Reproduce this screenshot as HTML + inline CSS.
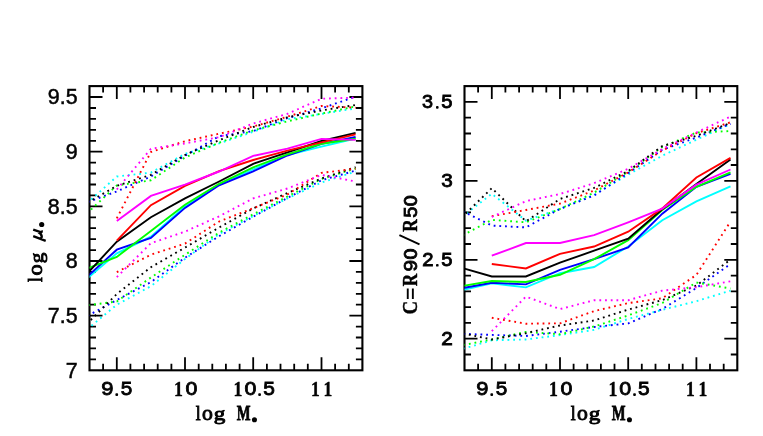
<!DOCTYPE html>
<html><head><meta charset="utf-8"><title>chart</title>
<style>html,body{margin:0;padding:0;background:#fff}svg{display:block}</style>
</head><body>
<svg width="763" height="436" viewBox="0 0 763 436">
<rect width="763" height="436" fill="#ffffff"/>
<defs><clipPath id="cl"><rect x="89.5" y="86.1" width="272.9" height="284.2"/></clipPath>
<clipPath id="cr"><rect x="464.5" y="86.1" width="272.8" height="284.2"/></clipPath></defs>
<path d="M103.1 370.3V363.8M103.1 86.1V92.6M116.8 370.3V357.3M116.8 86.1V99.1M130.4 370.3V363.8M130.4 86.1V92.6M144.1 370.3V363.8M144.1 86.1V92.6M157.7 370.3V363.8M157.7 86.1V92.6M171.4 370.3V363.8M171.4 86.1V92.6M185.0 370.3V357.3M185.0 86.1V99.1M198.7 370.3V363.8M198.7 86.1V92.6M212.3 370.3V363.8M212.3 86.1V92.6M225.9 370.3V363.8M225.9 86.1V92.6M239.6 370.3V363.8M239.6 86.1V92.6M253.2 370.3V357.3M253.2 86.1V99.1M266.9 370.3V363.8M266.9 86.1V92.6M280.5 370.3V363.8M280.5 86.1V92.6M294.2 370.3V363.8M294.2 86.1V92.6M307.8 370.3V363.8M307.8 86.1V92.6M321.5 370.3V357.3M321.5 86.1V99.1M335.1 370.3V363.8M335.1 86.1V92.6M348.8 370.3V363.8M348.8 86.1V92.6M89.5 359.4H96.0M362.4 359.4H355.9M89.5 348.4H96.0M362.4 348.4H355.9M89.5 337.5H96.0M362.4 337.5H355.9M89.5 326.6H96.0M362.4 326.6H355.9M89.5 315.6H102.5M362.4 315.6H349.4M89.5 304.7H96.0M362.4 304.7H355.9M89.5 293.8H96.0M362.4 293.8H355.9M89.5 282.9H96.0M362.4 282.9H355.9M89.5 271.9H96.0M362.4 271.9H355.9M89.5 261.0H102.5M362.4 261.0H349.4M89.5 250.1H96.0M362.4 250.1H355.9M89.5 239.1H96.0M362.4 239.1H355.9M89.5 228.2H96.0M362.4 228.2H355.9M89.5 217.3H96.0M362.4 217.3H355.9M89.5 206.3H102.5M362.4 206.3H349.4M89.5 195.4H96.0M362.4 195.4H355.9M89.5 184.5H96.0M362.4 184.5H355.9M89.5 173.5H96.0M362.4 173.5H355.9M89.5 162.6H96.0M362.4 162.6H355.9M89.5 151.7H102.5M362.4 151.7H349.4M89.5 140.8H96.0M362.4 140.8H355.9M89.5 129.8H96.0M362.4 129.8H355.9M89.5 118.9H96.0M362.4 118.9H355.9M89.5 108.0H96.0M362.4 108.0H355.9M89.5 97.0H102.5M362.4 97.0H349.4" stroke="#000" stroke-width="1.8" fill="none"/>
<rect x="89.5" y="86.1" width="272.9" height="284.2" fill="none" stroke="#000" stroke-width="2.1"/>
<path d="M478.1 370.3V363.8M478.1 86.1V92.6M491.8 370.3V357.3M491.8 86.1V99.1M505.4 370.3V363.8M505.4 86.1V92.6M519.1 370.3V363.8M519.1 86.1V92.6M532.7 370.3V363.8M532.7 86.1V92.6M546.3 370.3V363.8M546.3 86.1V92.6M560.0 370.3V357.3M560.0 86.1V99.1M573.6 370.3V363.8M573.6 86.1V92.6M587.3 370.3V363.8M587.3 86.1V92.6M600.9 370.3V363.8M600.9 86.1V92.6M614.5 370.3V363.8M614.5 86.1V92.6M628.2 370.3V357.3M628.2 86.1V99.1M641.8 370.3V363.8M641.8 86.1V92.6M655.5 370.3V363.8M655.5 86.1V92.6M669.1 370.3V363.8M669.1 86.1V92.6M682.7 370.3V363.8M682.7 86.1V92.6M696.4 370.3V357.3M696.4 86.1V99.1M710.0 370.3V363.8M710.0 86.1V92.6M723.7 370.3V363.8M723.7 86.1V92.6M464.5 354.5H471.0M737.3 354.5H730.8M464.5 338.7H477.5M737.3 338.7H724.3M464.5 322.9H471.0M737.3 322.9H730.8M464.5 307.1H471.0M737.3 307.1H730.8M464.5 291.4H471.0M737.3 291.4H730.8M464.5 275.6H471.0M737.3 275.6H730.8M464.5 259.8H477.5M737.3 259.8H724.3M464.5 244.0H471.0M737.3 244.0H730.8M464.5 228.2H471.0M737.3 228.2H730.8M464.5 212.4H471.0M737.3 212.4H730.8M464.5 196.6H471.0M737.3 196.6H730.8M464.5 180.8H477.5M737.3 180.8H724.3M464.5 165.0H471.0M737.3 165.0H730.8M464.5 149.3H471.0M737.3 149.3H730.8M464.5 133.5H471.0M737.3 133.5H730.8M464.5 117.7H471.0M737.3 117.7H730.8M464.5 101.9H477.5M737.3 101.9H724.3" stroke="#000" stroke-width="1.8" fill="none"/>
<rect x="464.5" y="86.1" width="272.8" height="284.2" fill="none" stroke="#000" stroke-width="2.1"/>
<g clip-path="url(#cl)" fill="none" stroke-width="1.90" stroke-linejoin="miter">
<path d="M82.7 282.4 L89.5 276.6 L116.8 253.3 L150.9 236.7 L185.0 206.4 L219.1 184.8 L253.2 169.5 L287.4 155.0 L321.5 146.7 L355.6 138.5" stroke="#00ffff"/>
<path d="M82.7 207.1 L89.5 201.0 L116.8 176.5 L150.9 172.6 L185.0 153.9 L219.1 143.4 L253.2 131.8 L287.4 119.3 L321.5 113.9 L355.6 108.4" stroke="#00ffff" stroke-dasharray="1.8 3.9"/>
<path d="M82.7 333.1 L89.5 327.4 L116.8 304.7 L150.9 286.2 L185.0 259.0 L219.1 234.0 L253.2 216.0 L287.4 198.4 L321.5 182.5 L355.6 171.5" stroke="#00ffff" stroke-dasharray="1.8 3.9"/>
<path d="M82.7 280.7 L89.5 274.5 L116.8 249.7 L150.9 238.0 L185.0 207.9 L219.1 185.3 L253.2 171.3 L287.4 155.5 L321.5 143.8 L355.6 137.0" stroke="#0000ff"/>
<path d="M82.7 204.0 L89.5 201.5 L116.8 191.4 L150.9 176.5 L185.0 155.8 L219.1 136.2 L253.2 131.1 L287.4 118.1 L321.5 108.4 L355.6 96.6" stroke="#0000ff" stroke-dasharray="1.8 3.9"/>
<path d="M82.7 318.5 L89.5 314.8 L116.8 300.0 L150.9 282.1 L185.0 257.7 L219.1 236.2 L253.2 216.7 L287.4 198.0 L321.5 180.3 L355.6 170.6" stroke="#0000ff" stroke-dasharray="1.8 3.9"/>
<path d="M82.7 270.3 L89.5 267.6 L116.8 256.9 L150.9 231.0 L185.0 204.7 L219.1 183.8 L253.2 167.3 L287.4 154.4 L321.5 143.8 L355.6 138.8" stroke="#00ff00"/>
<path d="M82.7 217.4 L89.5 211.0 L116.8 185.5 L150.9 180.3 L185.0 157.5 L219.1 142.7 L253.2 130.4 L287.4 121.3 L321.5 113.6 L355.6 106.4" stroke="#00ff00" stroke-dasharray="1.8 3.9"/>
<path d="M82.7 306.0 L89.5 305.1 L116.8 301.5 L150.9 277.5 L185.0 254.8 L219.1 232.6 L253.2 214.3 L287.4 196.5 L321.5 179.0 L355.6 168.5" stroke="#00ff00" stroke-dasharray="1.8 3.9"/>
<path d="M82.7 278.3 L89.5 271.0 L116.8 241.7 L150.9 217.2 L185.0 198.3 L219.1 181.5 L253.2 163.8 L287.4 152.4 L321.5 141.0 L355.6 132.8" stroke="#000000"/>
<path d="M82.7 205.4 L89.5 201.5 L116.8 185.9 L150.9 174.8 L185.0 155.0 L219.1 140.2 L253.2 127.0 L287.4 117.3 L321.5 110.4 L355.6 105.0" stroke="#000000" stroke-dasharray="1.8 3.9"/>
<path d="M82.7 328.1 L89.5 321.3 L116.8 294.0 L150.9 267.2 L185.0 247.6 L219.1 227.5 L253.2 208.5 L287.4 193.0 L321.5 178.5 L355.6 167.1" stroke="#000000" stroke-dasharray="1.8 3.9"/>
<path d="M116.8 240.7 L150.9 205.2 L185.0 185.8 L219.1 171.1 L253.2 160.0 L287.4 150.7 L321.5 142.4 L355.6 134.3" stroke="#ff0000"/>
<path d="M116.8 218.4 L150.9 152.0 L185.0 141.2 L219.1 133.7 L253.2 126.5 L287.4 116.7 L321.5 106.0 L355.6 107.7" stroke="#ff0000" stroke-dasharray="1.8 3.9"/>
<path d="M116.8 272.1 L150.9 254.7 L185.0 243.6 L219.1 221.5 L253.2 208.2 L287.4 194.5 L321.5 172.9 L355.6 168.7" stroke="#ff0000" stroke-dasharray="1.8 3.9"/>
<path d="M116.8 220.9 L150.9 195.9 L185.0 184.6 L219.1 171.5 L253.2 155.9 L287.4 148.6 L321.5 138.9 L355.6 139.9" stroke="#ff00ff"/>
<path d="M116.8 189.5 L150.9 148.8 L185.0 143.4 L219.1 137.2 L253.2 123.5 L287.4 113.8 L321.5 98.7 L355.6 97.6" stroke="#ff00ff" stroke-dasharray="1.8 3.9"/>
<path d="M116.8 277.1 L150.9 243.2 L185.0 231.6 L219.1 216.3 L253.2 198.4 L287.4 188.5 L321.5 174.9 L355.6 181.5" stroke="#ff00ff" stroke-dasharray="1.8 3.9"/>
</g>
<g clip-path="url(#cr)" fill="none" stroke-width="1.90" stroke-linejoin="miter">
<path d="M457.7 291.1 L464.5 289.5 L491.8 283.2 L525.9 287.4 L560.0 273.2 L594.1 267.0 L628.2 246.5 L662.3 220.2 L696.4 201.3 L730.5 186.4" stroke="#00ffff"/>
<path d="M457.7 220.3 L464.5 215.0 L491.8 193.8 L525.9 220.6 L560.0 208.9 L594.1 194.8 L628.2 174.6 L662.3 155.7 L696.4 139.7 L730.5 124.1" stroke="#00ffff" stroke-dasharray="1.8 3.9"/>
<path d="M457.7 350.4 L464.5 348.4 L491.8 340.3 L525.9 339.5 L560.0 335.0 L594.1 329.9 L628.2 319.0 L662.3 309.8 L696.4 301.2 L730.5 290.6" stroke="#00ffff" stroke-dasharray="1.8 3.9"/>
<path d="M457.7 289.1 L464.5 287.8 L491.8 282.7 L525.9 284.4 L560.0 269.8 L594.1 259.2 L628.2 247.5 L662.3 213.7 L696.4 186.8 L730.5 173.8" stroke="#0000ff"/>
<path d="M457.7 208.8 L464.5 212.2 L491.8 225.6 L525.9 227.4 L560.0 208.9 L594.1 195.5 L628.2 173.1 L662.3 149.8 L696.4 137.5 L730.5 123.8" stroke="#0000ff" stroke-dasharray="1.8 3.9"/>
<path d="M457.7 333.6 L464.5 333.9 L491.8 334.9 L525.9 336.0 L560.0 331.7 L594.1 327.0 L628.2 323.4 L662.3 309.0 L696.4 288.0 L730.5 264.0" stroke="#0000ff" stroke-dasharray="1.8 3.9"/>
<path d="M457.7 286.8 L464.5 285.6 L491.8 281.0 L525.9 282.0 L560.0 274.8 L594.1 259.2 L628.2 240.2 L662.3 210.0 L696.4 186.8 L730.5 172.4" stroke="#00ff00"/>
<path d="M457.7 237.9 L464.5 234.3 L491.8 219.9 L525.9 222.3 L560.0 209.0 L594.1 192.6 L628.2 171.7 L662.3 147.0 L696.4 132.5 L730.5 131.0" stroke="#00ff00" stroke-dasharray="1.8 3.9"/>
<path d="M457.7 346.1 L464.5 344.8 L491.8 339.5 L525.9 331.9 L560.0 334.2 L594.1 326.5 L628.2 315.4 L662.3 303.0 L696.4 282.5 L730.5 288.5" stroke="#00ff00" stroke-dasharray="1.8 3.9"/>
<path d="M457.7 266.7 L464.5 268.7 L491.8 276.5 L525.9 276.5 L560.0 262.7 L594.1 250.7 L628.2 238.6 L662.3 209.3 L696.4 184.0 L730.5 159.4" stroke="#000000"/>
<path d="M457.7 221.5 L464.5 214.8 L491.8 188.1 L525.9 221.3 L560.0 199.0 L594.1 187.9 L628.2 171.0 L662.3 146.0 L696.4 135.8 L730.5 123.0" stroke="#000000" stroke-dasharray="1.8 3.9"/>
<path d="M457.7 332.2 L464.5 333.7 L491.8 339.5 L525.9 333.2 L560.0 325.5 L594.1 320.5 L628.2 309.6 L662.3 300.1 L696.4 285.6 L730.5 259.5" stroke="#000000" stroke-dasharray="1.8 3.9"/>
<path d="M491.8 264.0 L525.9 268.4 L560.0 253.8 L594.1 246.5 L628.2 231.7 L662.3 208.4 L696.4 177.5 L730.5 157.9" stroke="#ff0000"/>
<path d="M491.8 216.2 L525.9 210.0 L560.0 203.6 L594.1 190.5 L628.2 172.4 L662.3 150.5 L696.4 133.2 L730.5 122.3" stroke="#ff0000" stroke-dasharray="1.8 3.9"/>
<path d="M491.8 317.8 L525.9 323.7 L560.0 323.3 L594.1 311.1 L628.2 303.1 L662.3 298.3 L696.4 274.9 L730.5 221.5" stroke="#ff0000" stroke-dasharray="1.8 3.9"/>
<path d="M491.8 255.7 L525.9 243.0 L560.0 243.0 L594.1 235.2 L628.2 222.3 L662.3 208.6 L696.4 184.7 L730.5 169.5" stroke="#ff00ff"/>
<path d="M491.8 217.0 L525.9 201.1 L560.0 194.0 L594.1 183.2 L628.2 168.8 L662.3 149.0 L696.4 132.5 L730.5 116.6" stroke="#ff00ff" stroke-dasharray="1.8 3.9"/>
<path d="M491.8 331.2 L525.9 296.6 L560.0 309.1 L594.1 300.2 L628.2 300.2 L662.3 290.6 L696.4 287.2 L730.5 281.3" stroke="#ff00ff" stroke-dasharray="1.8 3.9"/>
</g>
<g fill="#000" opacity="0.995">
<text x="77.6" y="104.4" text-anchor="end" font-family="Liberation Sans, sans-serif" font-size="21.4" stroke="#000" stroke-width="0.5">9.5</text>
<text x="77.6" y="159.1" text-anchor="end" font-family="Liberation Sans, sans-serif" font-size="21.4" stroke="#000" stroke-width="0.5">9</text>
<text x="77.6" y="213.7" text-anchor="end" font-family="Liberation Sans, sans-serif" font-size="21.4" stroke="#000" stroke-width="0.5">8.5</text>
<text x="77.6" y="268.4" text-anchor="end" font-family="Liberation Sans, sans-serif" font-size="21.4" stroke="#000" stroke-width="0.5">8</text>
<text x="77.6" y="323.0" text-anchor="end" font-family="Liberation Sans, sans-serif" font-size="21.4" stroke="#000" stroke-width="0.5">7.5</text>
<text x="77.6" y="377.7" text-anchor="end" font-family="Liberation Sans, sans-serif" font-size="21.4" stroke="#000" stroke-width="0.5">7</text>
<text transform="translate(100.80 395.47) scale(1.062 1)" font-family="Liberation Mono, monospace" font-size="20.69" stroke="#000" stroke-width="0.85">9</text>
<rect x="115.39" y="393.20" width="2.70" height="2.7" rx="0.9"/>
<text transform="translate(120.21 395.47) scale(0.997 1)" font-family="Liberation Mono, monospace" font-size="20.85" stroke="#000" stroke-width="0.85">5</text>
<text transform="translate(174.12 395.67) scale(0.824 1)" font-family="Liberation Serif, serif" font-weight="bold" font-size="21.59" stroke="#000" stroke-width="0.45">1</text>
<text transform="translate(185.30 395.47) scale(1.000 1)" font-family="Liberation Mono, monospace" font-size="20.69" stroke="#000" stroke-width="0.85">O</text>
<text transform="translate(233.44 395.67) scale(0.824 1)" font-family="Liberation Serif, serif" font-weight="bold" font-size="21.59" stroke="#000" stroke-width="0.45">1</text>
<text transform="translate(244.13 395.47) scale(1.000 1)" font-family="Liberation Mono, monospace" font-size="20.69" stroke="#000" stroke-width="0.85">O</text>
<rect x="258.24" y="393.20" width="2.70" height="2.7" rx="0.9"/>
<text transform="translate(262.64 395.47) scale(1.007 1)" font-family="Liberation Mono, monospace" font-size="20.85" stroke="#000" stroke-width="0.85">5</text>
<text transform="translate(310.99 395.67) scale(0.812 1)" font-family="Liberation Serif, serif" font-weight="bold" font-size="21.59" stroke="#000" stroke-width="0.45">1</text>
<text transform="translate(323.59 395.67) scale(0.812 1)" font-family="Liberation Serif, serif" font-weight="bold" font-size="21.59" stroke="#000" stroke-width="0.45">1</text>
<text transform="translate(475.79 395.47) scale(1.062 1)" font-family="Liberation Mono, monospace" font-size="20.69" stroke="#000" stroke-width="0.85">9</text>
<rect x="490.38" y="393.20" width="2.70" height="2.7" rx="0.9"/>
<text transform="translate(495.20 395.47) scale(0.997 1)" font-family="Liberation Mono, monospace" font-size="20.85" stroke="#000" stroke-width="0.85">5</text>
<text transform="translate(549.08 395.67) scale(0.824 1)" font-family="Liberation Serif, serif" font-weight="bold" font-size="21.59" stroke="#000" stroke-width="0.45">1</text>
<text transform="translate(560.27 395.47) scale(1.000 1)" font-family="Liberation Mono, monospace" font-size="20.69" stroke="#000" stroke-width="0.85">O</text>
<text transform="translate(608.38 395.67) scale(0.824 1)" font-family="Liberation Serif, serif" font-weight="bold" font-size="21.59" stroke="#000" stroke-width="0.45">1</text>
<text transform="translate(619.07 395.47) scale(1.000 1)" font-family="Liberation Mono, monospace" font-size="20.69" stroke="#000" stroke-width="0.85">O</text>
<rect x="633.18" y="393.20" width="2.70" height="2.7" rx="0.9"/>
<text transform="translate(637.58 395.47) scale(1.007 1)" font-family="Liberation Mono, monospace" font-size="20.85" stroke="#000" stroke-width="0.85">5</text>
<text transform="translate(685.90 395.67) scale(0.812 1)" font-family="Liberation Serif, serif" font-weight="bold" font-size="21.59" stroke="#000" stroke-width="0.45">1</text>
<text transform="translate(698.50 395.67) scale(0.812 1)" font-family="Liberation Serif, serif" font-weight="bold" font-size="21.59" stroke="#000" stroke-width="0.45">1</text>
<text transform="translate(421.57 108.26) scale(0.963 1)" font-family="Liberation Mono, monospace" font-size="20.69" stroke="#000" stroke-width="0.85">3</text>
<rect x="436.00" y="105.99" width="2.60" height="2.7" rx="0.9"/>
<text transform="translate(440.84 108.26) scale(0.976 1)" font-family="Liberation Mono, monospace" font-size="20.85" stroke="#000" stroke-width="0.85">5</text>
<text transform="translate(440.72 187.21) scale(1.004 1)" font-family="Liberation Mono, monospace" font-size="20.69" stroke="#000" stroke-width="0.85">3</text>
<text transform="translate(421.70 266.15) scale(0.977 1)" font-family="Liberation Mono, monospace" font-size="20.85" stroke="#000" stroke-width="0.85">2</text>
<rect x="436.00" y="263.88" width="2.60" height="2.7" rx="0.9"/>
<text transform="translate(440.84 266.15) scale(0.976 1)" font-family="Liberation Mono, monospace" font-size="20.85" stroke="#000" stroke-width="0.85">5</text>
<text transform="translate(440.77 345.10) scale(0.998 1)" font-family="Liberation Mono, monospace" font-size="20.85" stroke="#000" stroke-width="0.85">2</text>
<text transform="translate(195.80 419.85) scale(0.869 1)" font-family="Liberation Serif, serif" font-size="20.32" stroke="#000" stroke-width="0.90">l</text>
<text transform="translate(202.03 419.85) scale(1.087 1)" font-family="Liberation Serif, serif" font-size="19.96" stroke="#000" stroke-width="0.90">o</text>
<text transform="translate(213.76 420.30) scale(1.201 1)" font-family="Liberation Serif, serif" font-size="19.20" stroke="#000" stroke-width="0.90">g</text>
<text transform="translate(236.75 419.90) scale(0.673 1)" font-family="Liberation Serif, serif" font-weight="bold" font-size="21.68" stroke="#000" stroke-width="0.80">M</text>
<circle cx="254.45" cy="419.8" r="2.55"/>
<text transform="translate(570.80 419.85) scale(0.869 1)" font-family="Liberation Serif, serif" font-size="20.32" stroke="#000" stroke-width="0.90">l</text>
<text transform="translate(577.03 419.85) scale(1.087 1)" font-family="Liberation Serif, serif" font-size="19.96" stroke="#000" stroke-width="0.90">o</text>
<text transform="translate(588.76 420.30) scale(1.201 1)" font-family="Liberation Serif, serif" font-size="19.20" stroke="#000" stroke-width="0.90">g</text>
<text transform="translate(611.75 419.90) scale(0.673 1)" font-family="Liberation Serif, serif" font-weight="bold" font-size="21.68" stroke="#000" stroke-width="0.80">M</text>
<circle cx="629.45" cy="419.8" r="2.55"/>
<g transform="translate(42.5 282.1) rotate(-90)">
<text transform="translate(0.11 -0.45) scale(0.827 1)" font-family="Liberation Serif, serif" font-size="20.32" stroke="#000" stroke-width="0.90">l</text>
<text transform="translate(6.50 -0.45) scale(1.123 1)" font-family="Liberation Serif, serif" font-size="19.96" stroke="#000" stroke-width="0.90">o</text>
<text transform="translate(18.84 0.00) scale(1.106 1)" font-family="Liberation Serif, serif" font-size="19.20" stroke="#000" stroke-width="0.90">g</text>
<path d="M45.9 -9.3L41.3 3.2 M43.7 -3.2C43.4 0.2 47.6 0.2 49.8 -4.2 M52.4 -9.3L49.9 -1.9Q49.5 -0.3 51.6 -1.0" fill="none" stroke="#000" stroke-width="2.4" stroke-linecap="butt"/>
<circle cx="57.6" cy="-0.8" r="2.6"/>
</g>
<g transform="translate(417.1 314.0) rotate(-90)">
<text transform="translate(-0.60 -0.23) scale(0.882 1)" font-family="Liberation Serif, serif" font-weight="bold" font-size="21.35" stroke="#000" stroke-width="0.45">C</text>
<rect x="15" y="-10.3" width="10.5" height="1.9"/><rect x="15" y="-5.2" width="10.5" height="1.9"/>
<text transform="translate(27.83 -0.23) scale(0.806 1)" font-family="Liberation Serif, serif" font-weight="bold" font-size="21.45" stroke="#000" stroke-width="0.45">R</text>
<text transform="translate(42.08 -0.42) scale(1.009 1)" font-family="Liberation Mono, monospace" font-size="20.69" stroke="#000" stroke-width="0.85">9</text>
<text transform="translate(54.17 -0.42) scale(0.923 1)" font-family="Liberation Mono, monospace" font-size="20.69" stroke="#000" stroke-width="0.85">O</text>
<path d="M69.6 2.4L78.9 -17.7" stroke="#000" stroke-width="1.9" fill="none"/>
<text transform="translate(82.23 -0.23) scale(0.806 1)" font-family="Liberation Serif, serif" font-weight="bold" font-size="21.45" stroke="#000" stroke-width="0.45">R</text>
<text transform="translate(95.86 -0.42) scale(0.966 1)" font-family="Liberation Mono, monospace" font-size="20.85" stroke="#000" stroke-width="0.85">5</text>
<text transform="translate(107.47 -0.42) scale(0.923 1)" font-family="Liberation Mono, monospace" font-size="20.69" stroke="#000" stroke-width="0.85">O</text>
</g>
</g>
</svg>
</body></html>
